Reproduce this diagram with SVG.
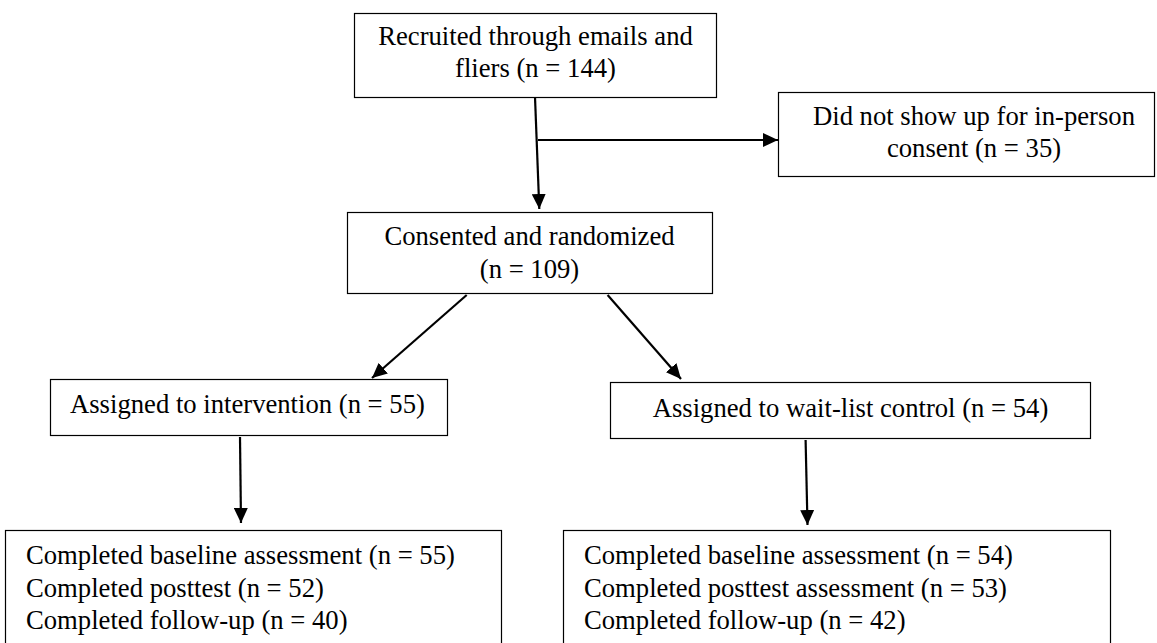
<svg xmlns="http://www.w3.org/2000/svg" width="1157" height="643" viewBox="0 0 1157 643">
<style>
  .box { fill: #ffffff; stroke: #000000; stroke-width: 1.2; }
  .t { font-family: "Liberation Serif", "Times New Roman", serif; font-size: 26.67px; fill: #000000; }
  .c { text-anchor: middle; }
  .conn { stroke: #000000; stroke-width: 2.2; fill: none; marker-end: url(#arrow); }
</style>
<defs>
  <marker id="arrow" markerUnits="userSpaceOnUse" markerWidth="16" markerHeight="14" refX="15" refY="7" orient="auto">
    <path d="M0,0 L15,7 L0,14 z" fill="#000000"/>
  </marker>
</defs>
<rect width="1157" height="643" fill="#ffffff"/>
<g id="connectors">
  <line class="conn" x1="535" y1="97" x2="539.3" y2="209"/>
  <line class="conn" x1="538" y1="140" x2="778" y2="140"/>
  <line class="conn" x1="466.7" y1="295" x2="372" y2="378"/>
  <line class="conn" x1="607.6" y1="295" x2="681" y2="379"/>
  <line class="conn" x1="240" y1="437" x2="241" y2="523"/>
  <line class="conn" x1="805.6" y1="440" x2="807.5" y2="525"/>
</g>
<g id="recruited">
  <rect class="box" x="354.5" y="13.5" width="362" height="84"/>
  <text class="t c" x="535.5" y="45">Recruited through emails and</text>
  <text class="t c" x="535.5" y="77">fliers (n = 144)</text>
</g>
<g id="noshow">
  <rect class="box" x="778.5" y="92.5" width="376" height="84"/>
  <text class="t c" x="974" y="125">Did not show up for in-person</text>
  <text class="t c" x="974" y="157">consent (n = 35)</text>
</g>
<g id="consented">
  <rect class="box" x="347.5" y="212.5" width="365" height="81"/>
  <text class="t c" x="529.5" y="245">Consented and randomized</text>
  <text class="t c" x="529.5" y="278">(n = 109)</text>
</g>
<g id="intervention">
  <rect class="box" x="50.5" y="379.5" width="397" height="56"/>
  <text class="t" x="70" y="413">Assigned to intervention (n = 55)</text>
</g>
<g id="waitlist">
  <rect class="box" x="610.5" y="382.5" width="480" height="56"/>
  <text class="t c" x="850.5" y="417">Assigned to wait-list control (n = 54)</text>
</g>
<g id="intervention-outcomes">
  <rect class="box" x="5.5" y="530.5" width="496" height="130"/>
  <text class="t" x="26" y="564">Completed baseline assessment (n = 55)</text>
  <text class="t" x="26" y="597">Completed posttest (n = 52)</text>
  <text class="t" x="26" y="629">Completed follow-up (n = 40)</text>
</g>
<g id="control-outcomes">
  <rect class="box" x="563.5" y="530.5" width="547" height="130"/>
  <text class="t" x="584" y="564">Completed baseline assessment (n = 54)</text>
  <text class="t" x="584" y="597">Completed posttest assessment (n = 53)</text>
  <text class="t" x="584" y="629">Completed follow-up (n = 42)</text>
</g>
</svg>
